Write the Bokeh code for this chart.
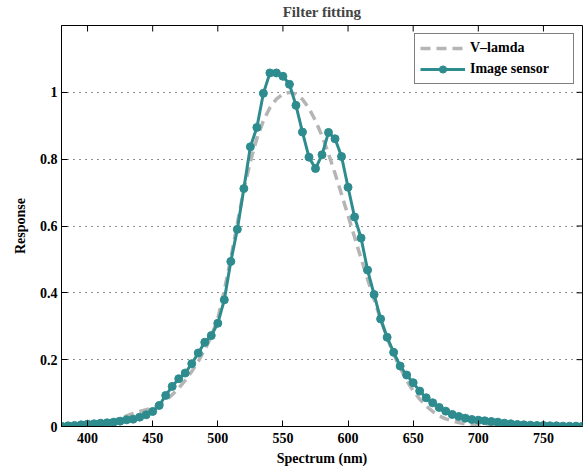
import math
from bokeh.plotting import figure
from bokeh.models import Range1d, FixedTicker, CustomJSTickFormatter
from bokeh.embed import file_html
from bokeh.resources import INLINE

# ---- data ----
wavelength = list(range(380, 785, 5))

v_lambda = [
    0.0001, 0.0002, 0.0005, 0.001, 0.002, 0.004, 0.008, 0.012, 0.018, 0.025,
    0.032, 0.039, 0.045, 0.050, 0.055, 0.063, 0.078, 0.095, 0.115, 0.138,
    0.165, 0.195, 0.230, 0.270, 0.323, 0.407, 0.503, 0.608, 0.710, 0.793,
    0.862, 0.915, 0.954, 0.980, 0.995, 1.000, 0.995, 0.979, 0.952, 0.915,
    0.870, 0.816, 0.757, 0.695, 0.631, 0.567, 0.503, 0.441, 0.381, 0.321,
    0.265, 0.217, 0.175, 0.138, 0.107, 0.082, 0.061, 0.045, 0.032, 0.023,
    0.017, 0.012, 0.008, 0.006, 0.004, 0.003, 0.002, 0.0015, 0.001, 0.0007,
    0.0005, 0.0004, 0.0002, 0.0002, 0.0001, 0.0001, 0.0001, 0.0, 0.0, 0.0,
    0.0,
]

image_sensor = [
    0.001, 0.002, 0.003, 0.005, 0.007, 0.008, 0.010, 0.011, 0.013, 0.016,
    0.020, 0.022, 0.028, 0.035, 0.045, 0.063, 0.093, 0.120, 0.143, 0.160,
    0.188, 0.220, 0.252, 0.272, 0.309, 0.379, 0.494, 0.590, 0.712, 0.837,
    0.895, 0.997, 1.058, 1.058, 1.048, 1.024, 0.961, 0.881, 0.806, 0.772,
    0.813, 0.880, 0.861, 0.808, 0.716, 0.627, 0.564, 0.468, 0.395, 0.322,
    0.267, 0.222, 0.181, 0.154, 0.131, 0.106, 0.086, 0.071, 0.057, 0.046,
    0.036, 0.030, 0.025, 0.021, 0.019, 0.017, 0.015, 0.013, 0.010, 0.008,
    0.006, 0.005, 0.004, 0.003, 0.003, 0.002, 0.002, 0.001, 0.001, 0.001,
    0.001,
]

x_ticks = [400, 450, 500, 550, 600, 650, 700, 750]
y_ticks = [0, 0.2, 0.4, 0.6, 0.8, 1]
x_limits = (380, 780)
y_limits = (0, 1.2)

title_text = "Filter fitting"
x_label = "Spectrum (nm)"
y_label = "Response"
series_names = ["V\u2013lamda", "Image sensor"]

FONT = "Liberation Serif"
TEAL = "#2e8c8f"
GRAY = "#b5b5b5"

p = figure(
    width=588, height=472,
    output_backend="svg", toolbar_location=None,
    x_range=Range1d(*x_limits), y_range=Range1d(*y_limits),
    min_border_left=61, min_border_right=6,
    min_border_top=25, min_border_bottom=46,
    title=title_text,
)
p.background_fill_color = "white"
p.border_fill_color = "white"
p.outline_line_color = "black"
p.outline_line_width = 1

p.title.align = "center"
p.title.vertical_align = "top"
p.title.text_font = FONT
p.title.text_font_style = "bold"
p.title.text_font_size = "15px"
p.title.standoff = 7

fmt = CustomJSTickFormatter(code="return String(tick);")

xa = p.xaxis[0]
xa.ticker = FixedTicker(ticks=x_ticks)
ya = p.yaxis[0]
ya.ticker = FixedTicker(ticks=y_ticks)
ya.formatter = fmt
for ax in (xa, ya):
    ax.major_tick_in = 6
    ax.major_tick_out = 0
    ax.minor_tick_line_color = None
    ax.axis_line_color = "black"
    ax.major_tick_line_color = "black"
    ax.major_label_text_font = FONT
    ax.major_label_text_font_style = "bold"
    ax.major_label_text_font_size = "14px"
    ax.major_label_text_color = "black"
    ax.axis_label_text_font = FONT
    ax.axis_label_text_font_style = "bold"
    ax.axis_label_text_font_size = "14px"
    ax.axis_label_text_color = "black"
xa.axis_label = x_label
ya.axis_label = y_label
xa.major_label_standoff = 6
xa.axis_label_standoff = 5
ya.major_label_standoff = 4
ya.axis_label_standoff = 9

# inward ticks on the top and right edges of the box
p.ray(x=x_ticks, y=[y_limits[1]] * len(x_ticks), length=6,
      length_units="screen", angle=-math.pi / 2, line_color="black", line_width=1)
p.ray(x=[x_limits[1]] * len(y_ticks), y=y_ticks, length=6,
      length_units="screen", angle=math.pi, line_color="black", line_width=1)

p.xgrid.visible = False
p.ygrid.ticker = FixedTicker(ticks=y_ticks)
p.ygrid.grid_line_color = "#222222"
p.ygrid.grid_line_dash = "1 5"
p.ygrid.grid_line_width = 1

p.line(wavelength, v_lambda, line_color=GRAY, line_width=3.5,
       line_dash="10 6", legend_label=series_names[0])
p.line(wavelength, image_sensor, line_color=TEAL, line_width=3,
       legend_label=series_names[1])
p.scatter(wavelength, image_sensor, marker="circle", size=8,
          fill_color=TEAL, line_color=TEAL, legend_label=series_names[1])

lg = p.legend[0]
lg.location = "top_right"
lg.margin = 8
lg.padding = 5
lg.spacing = 3
lg.glyph_width = 45
lg.glyph_height = 18
lg.label_height = 18
lg.label_width = 98
lg.label_standoff = 5
lg.label_text_font = FONT
lg.label_text_font_style = "bold"
lg.label_text_font_size = "14px"
lg.label_text_color = "black"
lg.border_line_color = "black"
lg.border_line_width = 1
lg.background_fill_color = "white"
lg.background_fill_alpha = 1.0

open("out.html", "w").write(file_html(p, INLINE))
